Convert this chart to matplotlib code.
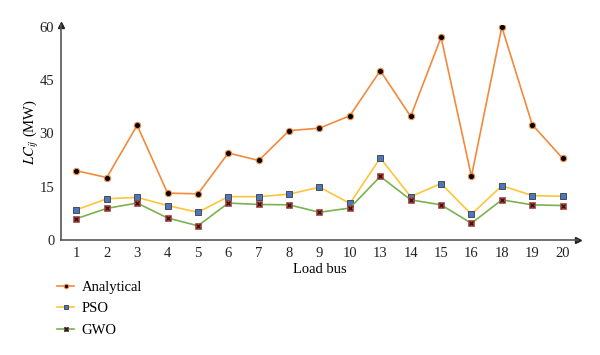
import matplotlib
matplotlib.use("Agg")
import matplotlib.pyplot as plt
from matplotlib.legend_handler import HandlerTuple

buses = ["1", "2", "3", "4", "5", "6", "7", "8", "9", "10", "13", "14", "15", "16", "18", "19", "20"]
analytical = [19.5, 17.6, 32.3, 13.2, 13.0, 24.5, 22.4, 30.8, 31.5, 35.0, 47.7, 34.8, 57.1, 17.9, 60.0, 32.5, 23.0]
pso = [8.5, 11.6, 12.0, 9.7, 7.8, 12.2, 12.2, 12.9, 14.9, 10.3, 23.1, 12.2, 15.9, 7.2, 15.3, 12.5, 12.3]
gwo = [6.0, 8.9, 10.4, 6.2, 4.0, 10.4, 10.0, 9.9, 7.8, 9.0, 17.9, 11.3, 9.9, 4.7, 11.3, 9.9, 9.7]
yticks = [0, 15, 30, 45, 60]

plt.rcParams['font.family'] = ['Liberation Serif', 'DejaVu Serif']
plt.rcParams['mathtext.fontset'] = 'stix'

fig = plt.figure(figsize=(6.0, 3.55), dpi=100)
ax = fig.add_axes([0.102, 0.324, 0.861, 0.606])
x = list(range(len(buses)))

l1, = ax.plot(x, analytical, color='#F28A3C', lw=1.2, marker='o', ms=4.5,
              mfc='black', mec='#F28A3C', mew=0.8, zorder=3)
l2, = ax.plot(x, pso, color='#FFC53A', lw=1.2, marker='s', ms=5,
              mfc='#4A78C0', mec='#3A3A3A', mew=0.6, zorder=3)
l3, = ax.plot(x, gwo, color='#7DB04F', lw=1.2, marker='s', ms=5,
              mfc='#E8302A', mec='#8A5050', mew=0.5, zorder=3)
l3x, = ax.plot(x, gwo, ls='none', marker='x', ms=3.5, mec='#222222', mew=1.0, zorder=4)

ax.set_xlim(-0.5, len(buses) - 0.5)
ax.set_ylim(0, 60.6)
ax.set_xticks(x)
ax.set_xticklabels(buses)
ax.set_yticks(yticks)
ax.tick_params(length=0, labelsize=10.5, colors='#222222', pad=5)
for s in ['top', 'right']:
    ax.spines[s].set_visible(False)
for s in ['left', 'bottom']:
    ax.spines[s].set_color('#555555')
    ax.spines[s].set_linewidth(1.2)

# arrowheads
ax.plot(1, 0, '>', transform=ax.transAxes, color='#222222', ms=4, clip_on=False)
ax.plot(0, 1, '^', transform=ax.transAxes, color='#222222', ms=4, clip_on=False)

ax.set_xlabel('Load bus', fontsize=10.5, labelpad=2)
ax.set_ylabel(r'$LC_{ij}$ (MW)', fontsize=10.5, labelpad=-1)

fig.legend([l1, l2, (l3, l3x)], ['Analytical', 'PSO', 'GWO'],
           handler_map={tuple: HandlerTuple(ndivide=1)},
           loc='upper left', bbox_to_anchor=(0.085, 0.225), frameon=False,
           fontsize=10.5, handlelength=1.2, handletextpad=0.5, labelspacing=0.55,
           markerscale=0.7, borderaxespad=0)

fig.savefig('out.png', dpi=100)
